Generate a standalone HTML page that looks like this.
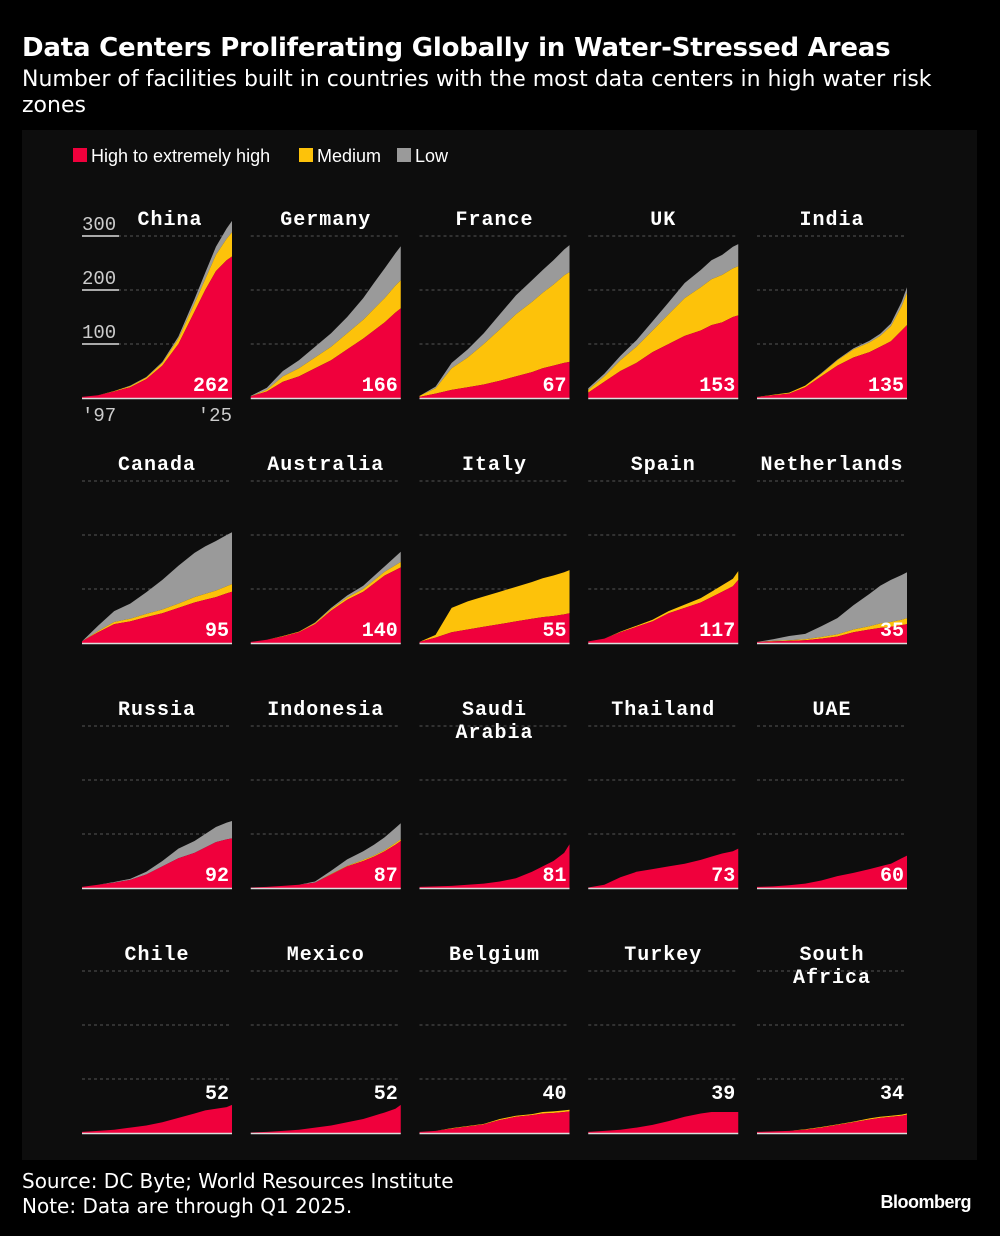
<!DOCTYPE html>
<html><head><meta charset="utf-8">
<style>
body{margin:0;background:#000;width:1000px;height:1236px;overflow:hidden;font-family:"Liberation Sans",sans-serif;color:#fff}
#t{position:absolute;left:22px;top:33px;font-size:26px;font-weight:bold;margin:0;font-family:"DejaVu Sans",sans-serif;letter-spacing:-0.2px}
#s{position:absolute;left:22px;top:67px;font-size:22px;line-height:26px;width:950px;font-family:"DejaVu Sans",sans-serif}
#f{position:absolute;left:22px;top:1169px;font-size:20px;line-height:25px;font-family:"DejaVu Sans",sans-serif}
#b{position:absolute;right:29px;top:1192px;font-size:18px;font-weight:bold;letter-spacing:-0.5px}
svg{position:absolute;left:0;top:0}
</style></head><body>
<h1 id="t">Data Centers Proliferating Globally in Water-Stressed Areas</h1>
<div id="s">Number of facilities built in countries with the most data centers in high water risk zones</div>
<svg id="c" width="1000" height="1236"></svg>
<div id="f">Source: DC Byte; World Resources Institute<br>Note: Data are through Q1 2025.</div>
<div id="b">Bloomberg</div>
<script>
const years=[1997,2000,2003,2006,2009,2012,2015,2018,2020,2022,2024,2025];
const countries=["China","Germany","France","UK","India","Canada","Australia","Italy","Spain","Netherlands","Russia","Indonesia","Saudi Arabia","Thailand","UAE","Chile","Mexico","Belgium","Turkey","South Africa"];
const z=[0,0,0,0,0,0,0,0,0,0,0,0];
const high=[
[2,5,12,20,35,60,100,160,200,235,255,262],
[3,12,30,40,55,70,90,110,125,140,158,166],
[2,8,15,20,25,32,40,48,55,60,65,67],
[10,30,50,65,85,100,115,125,135,140,150,153],
[2,5,8,20,40,60,75,85,95,105,125,135],
[3,20,35,40,48,55,65,75,80,85,92,95],
[2,6,12,20,35,60,80,95,110,125,135,140],
[2,10,20,25,30,35,40,45,48,50,53,55],
[3,8,20,30,40,55,65,75,85,95,105,117],
[2,3,4,5,8,12,20,25,28,30,33,35],
[2,6,10,15,25,40,55,65,75,85,90,92],
[1,2,4,6,10,25,40,50,58,68,80,87],
[2,3,4,6,8,12,18,30,40,50,65,81],
[1,6,20,30,35,40,45,52,58,64,68,73],
[2,3,5,8,14,22,28,35,40,45,55,60],
[2,4,6,10,14,20,28,36,42,45,48,52],
[1,2,4,6,10,14,20,26,32,38,45,52],
[2,4,8,12,16,24,30,33,36,37,39,40],
[2,4,6,10,15,22,30,36,39,39,39,39],
[2,3,4,6,10,15,20,25,28,30,32,34]];
const medium=[
[0,0,1,2,3,5,10,15,20,30,40,45],
[0,3,10,15,20,25,30,35,40,45,50,52],
[2,10,40,55,75,95,115,130,140,150,162,166],
[5,10,20,30,40,55,70,80,85,88,90,91],
[0,1,2,3,5,10,15,18,20,28,45,60],
[0,2,4,5,6,7,8,10,11,12,13,14],
[0,0,1,1,2,3,4,5,6,7,9,10],
[0,5,45,52,56,60,64,68,72,75,78,80],
[0,0,1,2,3,4,6,8,10,12,14,16],
[0,1,1,2,3,4,5,6,8,9,10,11],
z,[0,0,0,0,0,1,1,2,2,2,3,3],z,z,z,z,z,
[0,0,1,1,1,2,2,2,3,3,3,3],z,[0,0,0,1,1,1,1,2,2,2,2,2]];
const low=[
[0,0,0,1,1,2,4,8,12,15,19,21],
[1,4,10,15,20,25,30,40,48,55,60,63],
[0,3,10,15,20,28,35,40,42,45,48,50],
[3,5,8,12,17,22,28,32,35,37,40,41],
[0,0,0,0,1,1,2,3,4,5,8,10],
[0,10,20,28,40,55,70,82,88,92,95,96],
[0,0,0,0,1,2,4,6,8,10,16,19],
z,z,
[0,3,8,10,20,30,45,60,70,78,83,85],
[0,0,1,2,5,10,18,22,25,28,31,32],
[0,0,0,0,2,6,12,16,20,24,28,30],
z,z,z,z,z,z,z,z];
const gridTicks=[100,200,300];
const svg=document.getElementById('c');const NS='http://www.w3.org/2000/svg';
function mk(t,a,p){const e=document.createElementNS(NS,t);for(const k in a)e.setAttribute(k,a[k]);(p||svg).appendChild(e);return e;}
const panel=mk('rect',{x:22,y:130,width:955,height:1030,fill:'#0d0d0d'});


const leg=[["High to extremely high","#f0003c",73],["Medium","#fdc20a",299],["Low","#9a9a9a",397]];
leg.forEach(l=>{const g=mk('g',{});


mk('rect',{x:l[2],y:148,width:14,height:14,fill:l[1]},g);
const t=mk('text',{x:l[2]+18,y:162,fill:'#fff','font-size':18,'font-family':'Liberation Sans'},g);t.textContent=l[0];});
const sc=0.54,W=150;
countries.forEach((name,i)=>{
 const col=i%5,row=Math.floor(i/5);
 const x0=82+col*168.75,base=398+row*245;
 const xs=y=>x0+(y-1997)/(2025-1997)*W;
 const ys=v=>base-v*sc;
 const g=mk('g',{});
 
 
 gridTicks.forEach(t=>{const l=mk('line',{x1:x0,x2:x0+W,y1:ys(t),y2:ys(t),stroke:'#555','stroke-dasharray':'3,3','stroke-width':1},g);
  
  });
 const c1=high[i].map(v=>v),c2=high[i].map((v,j)=>v+medium[i][j]),c3=c2.map((v,j)=>v+low[i][j]);
 const area=(top,bot,fill,nm)=>{let d='M'+years.map((y,j)=>xs(y)+','+ys(top[j])).join('L');
  for(let j=years.length-1;j>=0;j--)d+='L'+xs(years[j])+','+ys(bot[j]);
  const p=mk('path',{d:d+'Z',fill:fill},g);
  
  };
 area(c3,c2,'#9a9a9a','area-low');area(c2,c1,'#fdc20a','area-medium');area(c1,z,'#f0003c','area-high');
 mk('line',{x1:x0,x2:x0+W,y1:base+0.5,y2:base+0.5,stroke:'#ddd','stroke-width':1.5},g);
 const lines=name==='Saudi Arabia'?['Saudi','Arabia']:name==='South Africa'?['South','Africa']:[name];
 const cx=i===0?170:x0+W/2;
 lines.forEach((ln,k)=>{const t=mk('text',{x:cx,y:base-173+k*23,fill:'#fff','font-size':20,'font-weight':'bold','font-family':'Liberation Mono',
 'text-anchor':'middle','letter-spacing':1},g);t.textContent=ln;
 
 });
 const vt=mk('text',{x:x0+W-3,y:row===3?base-34:base-7,fill:'#fff','font-size':20,'font-weight':'bold','font-family':'Liberation Mono','text-anchor':'end'},g);
 vt.textContent=high[i][11];
 
 
 if(i===0){gridTicks.forEach(t=>{mk('line',{x1:x0,x2:x0+37,y1:ys(t),y2:ys(t),stroke:'#ddd','stroke-width':1.5},g);
  const tl=mk('text',{x:x0,y:ys(t)-6,fill:'#ccc','font-size':19,'font-family':'Liberation Mono'},g);tl.textContent=t;
  
  });
  [["'97",x0,'start'],["'25",x0+W,'end']].forEach(a=>{const tl=mk('text',{x:a[1],y:base+23,fill:'#ccc','font-size':19,'font-family':'Liberation Mono','text-anchor':a[2]},g);tl.textContent=a[0];
  
  });}
});
</script>
</body></html>
